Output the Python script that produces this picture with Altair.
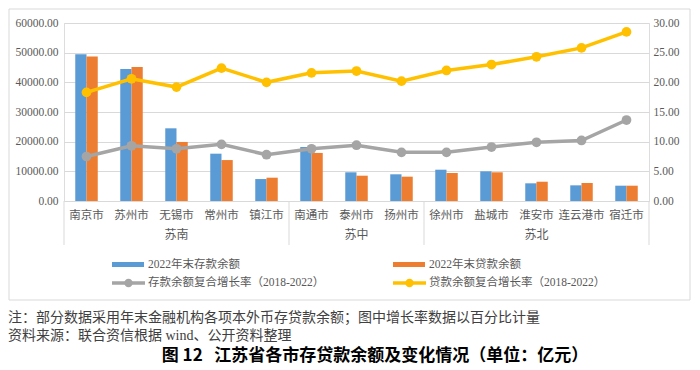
import altair as alt
import pandas as pd

cities = ["南京市", "苏州市", "无锡市", "常州市", "镇江市", "南通市", "泰州市", "扬州市",
          "徐州市", "盐城市", "淮安市", "连云港市", "宿迁市"]
regions = ["苏南", "苏中", "苏北"]
region_mid_city = ["无锡市", "泰州市", "淮安市"]
region_first_city = ["南京市", "南通市", "徐州市"]
deposits = [49500, 44500, 24500, 15950, 7400, 18200, 9670, 9000, 10550, 10000, 5960, 5280, 5160]
loans = [48700, 45200, 19900, 13800, 7860, 16200, 8530, 8200, 9440, 9670, 6500, 6070, 5160]
dep_growth = [7.5, 9.3, 8.8, 9.55, 7.8, 8.8, 9.4, 8.2, 8.2, 9.1, 9.9, 10.2, 13.65]
loan_growth = [18.3, 20.6, 19.2, 22.4, 20.0, 21.6, 21.9, 20.2, 22.0, 23.0, 24.3, 25.8, 28.5]

s_dep = "2022年末存款余额"
s_loan = "2022年末贷款余额"
s_depg = "存款余额复合增长率（2018-2022）"
s_loang = "贷款余额复合增长率（2018-2022）"
series_all = [s_dep, s_loan, s_depg, s_loang]
colors = ["#5B9BD5", "#ED7D31", "#A5A5A5", "#FFC000"]

note1 = "注：部分数据采用年末金融机构各项本外币存贷款余额；图中增长率数据以百分比计量"
note2 = "资料来源：联合资信根据 wind、公开资料整理"
fig_title = "图 12\u00a0\u00a0\u00a0江苏省各市存贷款余额及变化情况（单位：亿元）"

SERIF = "Liberation Serif, Noto Sans CJK SC"
SANS = "Noto Sans CJK SC"
W, H = 585, 178

bars_df = pd.DataFrame(
    [{"city": c, "series": s_dep, "value": v} for c, v in zip(cities, deposits)]
    + [{"city": c, "series": s_loan, "value": v} for c, v in zip(cities, loans)]
)
lines_df = pd.DataFrame(
    [{"city": c, "series": s_depg, "rate": v} for c, v in zip(cities, dep_growth)]
    + [{"city": c, "series": s_loang, "rate": v} for c, v in zip(cities, loan_growth)]
)
region_df = pd.DataFrame({"region": regions, "city": region_mid_city})
sep_df = pd.DataFrame({"city": region_first_city})
sep_end_df = pd.DataFrame({"city": [cities[-1]]})

xscale = alt.Scale(domain=cities, paddingInner=0.5, paddingOuter=0.25)
xaxis = alt.Axis(title=None, labelFont=SERIF, labelFontSize=11.5, labelColor="#595959",
                 labelPadding=8, ticks=False, domain=True, domainColor="#D9D9D9",
                 labelAngle=0, grid=False)
color_scale = alt.Scale(domain=series_all, range=colors)
one = alt.Data(values=[{}])

frame = alt.Chart(one).mark_rect(fill=None, stroke="#D9D9D9", strokeWidth=1).encode(
    x=alt.value(-55), x2=alt.value(626), y=alt.value(-14), y2=alt.value(277)
)

bars = alt.Chart(bars_df).mark_bar().encode(
    x=alt.X("city:N", scale=xscale, axis=xaxis),
    xOffset=alt.XOffset("series:N", sort=[s_dep, s_loan]),
    y=alt.Y("value:Q", scale=alt.Scale(domain=[0, 60000]),
            axis=alt.Axis(title=None, values=list(range(0, 60001, 10000)), format=".2f",
                          labelFont=SERIF, labelFontSize=11.5, labelColor="#595959",
                          ticks=False, domain=False, grid=True, gridColor="#D9D9D9",
                          labelPadding=6)),
    color=alt.Color("series:N", scale=color_scale, legend=None),
)

lines = alt.Chart(lines_df).mark_line(
    strokeWidth=3.5, point=alt.OverlayMarkDef(size=95, filled=True, opacity=1)
).encode(
    x=alt.X("city:N", scale=xscale, axis=xaxis),
    y=alt.Y("rate:Q", scale=alt.Scale(domain=[0, 30]),
            axis=alt.Axis(title=None, orient="right", values=list(range(0, 31, 5)),
                          format=".2f", labelFont=SERIF, labelFontSize=11.5,
                          labelColor="#595959", ticks=False, domain=False, grid=False,
                          labelPadding=4)),
    color=alt.Color("series:N", scale=color_scale, legend=None),
    detail="series:N",
)

region_text = alt.Chart(region_df).mark_text(
    font=SERIF, fontSize=12, color="#595959", baseline="middle"
).encode(
    x=alt.X("city:N", scale=xscale, axis=xaxis), y=alt.value(212), text="region:N"
)

seps = alt.Chart(sep_df).mark_rule(color="#D9D9D9", strokeWidth=1, xOffset=-11.25).encode(
    x=alt.X("city:N", scale=xscale, axis=xaxis, bandPosition=0),
    y=alt.value(H), y2=alt.value(222)
)
sep_end = alt.Chart(sep_end_df).mark_rule(color="#D9D9D9", strokeWidth=1, xOffset=11.25).encode(
    x=alt.X("city:N", scale=xscale, axis=xaxis, bandPosition=1),
    y=alt.value(H), y2=alt.value(222)
)

# custom legend
leg_dep = alt.Chart(one).mark_rect(color=colors[0]).encode(
    x=alt.value(48), x2=alt.value(80), y=alt.value(239), y2=alt.value(244))
leg_loan = alt.Chart(one).mark_rect(color=colors[1]).encode(
    x=alt.value(329), x2=alt.value(361), y=alt.value(239), y2=alt.value(244))
leg_depg_line = alt.Chart(one).mark_rule(color=colors[2], strokeWidth=3.5).encode(
    x=alt.value(48), x2=alt.value(81), y=alt.value(260))
leg_loang_line = alt.Chart(one).mark_rule(color=colors[3], strokeWidth=3.5).encode(
    x=alt.value(329), x2=alt.value(362), y=alt.value(260))
leg_depg_pt = alt.Chart(one).mark_point(color=colors[2], filled=True, size=70, opacity=1).encode(
    x=alt.value(64.5), y=alt.value(260))
leg_loang_pt = alt.Chart(one).mark_point(color=colors[3], filled=True, size=70, opacity=1).encode(
    x=alt.value(345.5), y=alt.value(260))


def label(txt, x, y, **kw):
    return alt.Chart(alt.Data(values=[{"t": txt}])).mark_text(
        align="left", baseline="middle", **kw
    ).encode(x=alt.value(x), y=alt.value(y), text="t:N")


leg_texts = [
    label(s_dep, 84, 241.5, font=SERIF, fontSize=11.5, color="#595959"),
    label(s_loan, 365, 241.5, font=SERIF, fontSize=11.5, color="#595959"),
    label(s_depg, 84, 260, font=SERIF, fontSize=11.5, color="#595959"),
    label(s_loang, 365, 260, font=SERIF, fontSize=11.5, color="#595959"),
]

notes = [
    label(note1, -56, 295, font=SERIF, fontSize=14, color="#404040"),
    label(note2, -56, 313, font=SERIF, fontSize=14, color="#404040"),
]
title_txt = alt.Chart(alt.Data(values=[{"t": fig_title}])).mark_text(
    align="center", baseline="middle", font=SANS, fontSize=17, fontWeight="bold", color="#000000"
).encode(x=alt.value(311), y=alt.value(333), text="t:N")

chart = alt.layer(
    frame, bars, lines, region_text, seps, sep_end,
    leg_dep, leg_loan, leg_depg_line, leg_loang_line, leg_depg_pt, leg_loang_pt,
    *leg_texts, *notes, title_txt
).resolve_scale(
    y="independent"
).properties(
    width=W, height=H,
    autosize=alt.AutoSizeParams(type="none"),
    padding={"left": 56, "top": 15, "right": 43, "bottom": 164},
).configure_view(stroke=None).configure(background="#FFFFFF")

chart.save("out.html", embed_options={"renderer": "svg", "actions": False})
